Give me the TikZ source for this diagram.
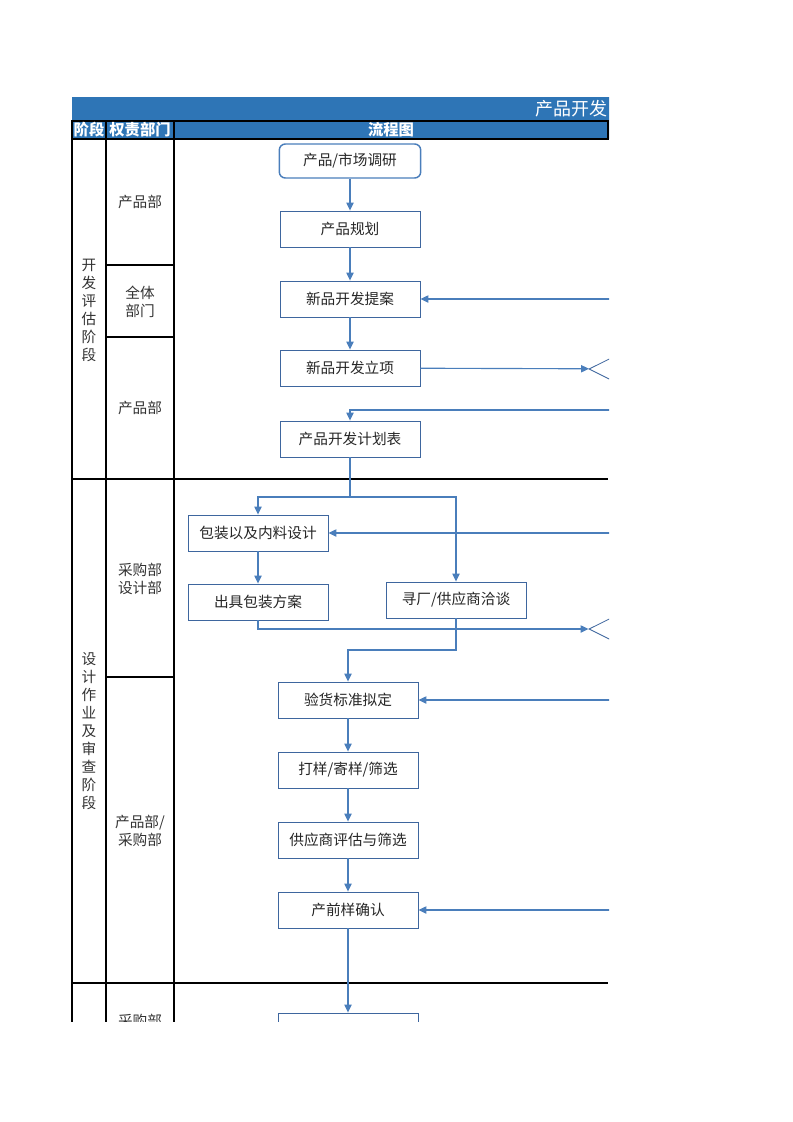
\documentclass[tikz,border=0pt]{standalone}
\usepackage{fontspec}
\newfontfamily\cjk{Noto Sans CJK SC}
\usetikzlibrary{shapes.geometric,arrows.meta}

\definecolor{headblue}{RGB}{46,117,182}
\definecolor{boxblue}{RGB}{62,102,158}
\definecolor{linkblue}{RGB}{74,126,187}

\tikzset{
    tbl/.style={black, line width=0.9pt},
    title/.style={text=white, font=\cjk\fontsize{13.5}{16}\selectfont, inner sep=0pt},
    head/.style={text=white, font=\cjk\bfseries\fontsize{11.5}{13}\selectfont, inner sep=0pt},
    stage/.style={align=center, text=black!80, font=\cjk\fontsize{11}{13.5}\selectfont, inner sep=0pt},
    lane/.style={align=center, text=black!80, font=\cjk\fontsize{11}{13.5}\selectfont, inner sep=0pt},
    box/.style={draw=boxblue, line width=0.65pt, fill=white, minimum width=105pt, minimum height=27pt, inner sep=0pt, text=black!85, font=\cjk\fontsize{11}{13}\selectfont},
    start/.style={box, draw=linkblue, line width=1.1pt, rounded corners=4.5pt, minimum width=106pt, minimum height=25.5pt},
    gate/.style={diamond, draw=boxblue, line width=0.65pt, minimum width=105pt, minimum height=52.5pt, inner sep=0pt},
    link/.style={linkblue, line width=0.85pt}
}

\begin{document}
\begin{tikzpicture}[x=0.75pt,y=-0.75pt,>={Triangle[length=6pt,width=5.5pt]}]
    \useasboundingbox (0,0) rectangle (793,1122);
    \begin{scope}
    \clip (0,0) rectangle (609,1021);

    % header
    \fill[headblue] (72,97) rectangle (620,139);
    \draw[tbl] (72,121) rectangle (608,139);
    \node[title, anchor=west] (title) at (535,109) {产品开发};
    \node[head] (h1) at (89,130) {阶段};
    \node[head] (h2) at (140,130) {权责部门};
    \node[head] (h3) at (391,130) {流程图};

    % table
    \draw[tbl] (72,121) -- (72,1030);
    \draw[tbl] (106,121) -- (106,1030);
    \draw[tbl] (174,121) -- (174,1030);
    \draw[tbl] (72,479) -- (608,479);
    \draw[tbl] (72,983) -- (608,983);
    \foreach \y in {265,337,677} \draw[tbl] (106,\y) -- (174,\y);

    \node[stage] (s1) at (89,310) {开\\发\\评\\估\\阶\\段};
    \node[stage] (s2) at (89,731) {设\\计\\作\\业\\及\\审\\查\\阶\\段};

    \node[lane] (l1) at (140,202) {产品部};
    \node[lane] (l2) at (140,302) {全体\\部门};
    \node[lane] (l3) at (140,408) {产品部};
    \node[lane] (l4) at (140,579) {采购部\\设计部};
    \node[lane] (l5) at (140,831) {产品部/\\采购部};
    \node[lane] (l6) at (140,1021) {采购部};

    % flow
    \node[start] (n1) at (350,161) {产品/市场调研};
    \node[box] (n2) at (350,229) {产品规划};
    \node[box] (n3) at (350,299) {新品开发提案};
    \node[box] (n4) at (350,368) {新品开发立项};
    \node[box] (n5) at (350,439) {产品开发计划表};
    \node[box] (n6) at (258,533) {包装以及内料设计};
    \node[box] (n7) at (258,602) {出具包装方案};
    \node[box] (n8) at (456,600) {寻厂/供应商洽谈};
    \node[box] (n9) at (348,700) {验货标准拟定};
    \node[box] (n10) at (348,770) {打样/寄样/筛选};
    \node[box] (n11) at (348,840) {供应商评估与筛选};
    \node[box] (n12) at (348,910) {产前样确认};
    \node[box] (n13) at (348,1031) {};

    \node[gate] (d1) at (659,369) {};
    \node[gate] (d2) at (659,629) {};

    \coordinate (e1) at (620,299);
    \coordinate (e2) at (620,410);
    \coordinate (e3) at (620,533);
    \coordinate (e4) at (620,700);
    \coordinate (e5) at (620,910);
    \coordinate (j1) at (350,497);
    \coordinate (j2) at (456,650);

%    \draw[gray!30, step=10] (0,0) grid (793,1122);

    \draw[link,->] (n1) -- (n2);
    \draw[link,->] (n2) -- (n3);
    \draw[link,->] (n3) -- (n4);
    \draw[link,->] (e1) -- (n3);
    \draw[link,->] (n4) -- (d1);
    \draw[link,->] (e2) -| (n5);
    \draw[link] (n5) -- (j1);
    \draw[link,->] (j1) -| (n6);
    \draw[link,->] (j1) -| (n8);
    \draw[link,->] (e3) -- (n6);
    \draw[link,->] (n6) -- (n7);
    \draw[link,->] (n7) |- (d2);
    \draw[link,->] (n8) -- (j2) -| (n9);
    \draw[link,->] (e4) -- (n9);
    \draw[link,->] (n9) -- (n10);
    \draw[link,->] (n10) -- (n11);
    \draw[link,->] (n11) -- (n12);
    \draw[link,->] (e5) -- (n12);
    \draw[link,->] (n12) -- (n13);

    \end{scope}
\end{tikzpicture}
\end{document}
